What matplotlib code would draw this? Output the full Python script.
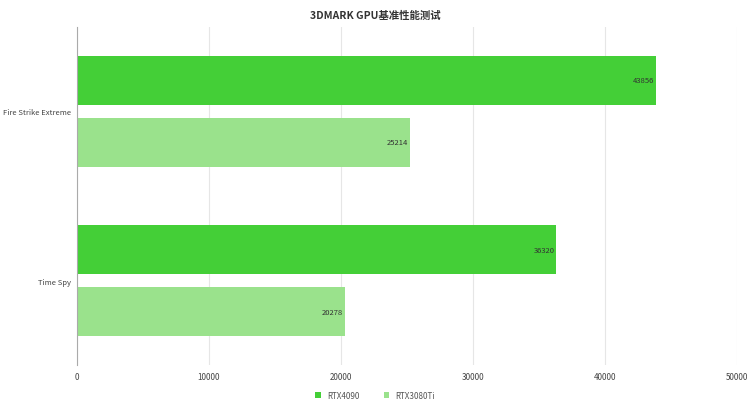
import numpy as np
import matplotlib.pyplot as plt

plt.rcParams['font.family'] = ['Noto Sans CJK SC', 'DejaVu Sans']

categories = ['Fire Strike Extreme', 'Time Spy']
series_names = ['RTX4090', 'RTX3080Ti']
rtx4090 = [43856, 36320]
rtx3080ti = [25214, 20278]
colors = ['#44cf37', '#9ae28c']


def bar_plot():
    fig = plt.figure(figsize=(7.5, 4.1), dpi=100)
    ax = fig.add_axes([0.1027, 0.107, 0.88, 0.825])

    y = np.arange(len(categories))
    h = 0.29
    off = 0.183

    b1 = ax.barh(y - off, rtx4090, height=h, color=colors[0], label=series_names[0], zorder=2)
    b2 = ax.barh(y + off, rtx3080ti, height=h, color=colors[1], label=series_names[1], zorder=2)

    # value labels at the end of each bar
    for bars, vals in ((b1, rtx4090), (b2, rtx3080ti)):
        for bar, v in zip(bars, vals):
            ax.text(v - 150, bar.get_y() + bar.get_height() / 2, str(v),
                    ha='right', va='center', fontsize=5.5, color='#333333', zorder=3)

    ax.set_ylim(len(categories) - 0.5, -0.5)
    ax.set_xlim(0, 50000)
    ax.set_xticks(np.arange(0, 50001, 10000))
    ax.set_yticks(y)
    ax.set_yticklabels(categories)
    ax.tick_params(axis='x', length=0, labelsize=5.8, colors='#444444', pad=5)
    ax.tick_params(axis='y', length=0, labelsize=5.5, colors='#444444', pad=4)

    ax.grid(axis='x', color='#e6e6e6', linewidth=0.8, zorder=0)
    for s in ['top', 'right', 'bottom']:
        ax.spines[s].set_visible(False)
    ax.spines['left'].set_color('#aaaaaa')
    ax.spines['left'].set_linewidth(0.8)

    fig.text(0.5, 0.962, '3DMARK GPU基准性能测试', ha='center', va='center',
             fontsize=7.5, fontweight='bold', color='#333333')

    fig.legend(loc='lower center', bbox_to_anchor=(0.5, 0.005), ncol=2, frameon=False,
               fontsize=5.8, handlelength=0.7, handleheight=0.7, columnspacing=3,
               labelcolor='#555555')

    fig.savefig('out.png', dpi=100, facecolor='white')


if __name__ == '__main__':
    bar_plot()
